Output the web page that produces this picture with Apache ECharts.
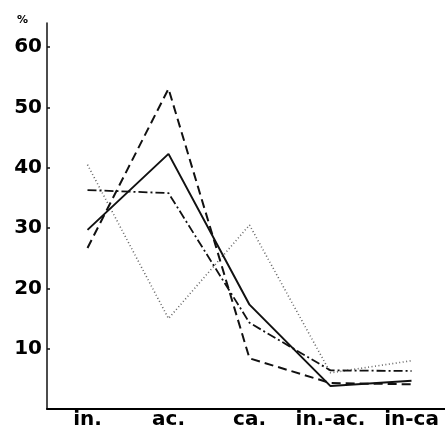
<!DOCTYPE html>
<html>
<head>
<meta charset="utf-8">
<script src="https://cdn.jsdelivr.net/npm/echarts@6/dist/echarts.min.js"></script>
<style>html,body{margin:0;padding:0;background:#fff}#c{width:445px;height:433px}</style>
</head>
<body>
<div id="c"></div>
<script>
const categories = ['in.', 'ac.', 'ca.', 'in.-ac.', 'in-ca'];
const solidSeries = [29.7, 42.3, 17.3, 3.8, 4.7];
const dashedSeries = [26.7, 53.1, 8.4, 4.3, 4.1];
const dashDotSeries = [36.3, 35.8, 14.3, 6.4, 6.3];
const dottedSeries = [40.5, 15.0, 30.5, 6.0, 8.0];
const yTicks = [10, 20, 30, 40, 50, 60];

const chart = echarts.init(document.getElementById('c'), null, {renderer: 'canvas'});
const font = 'DejaVu Sans';
function line(data, color, width, type) {
  return {
    type: 'line', data: data, symbol: 'none', silent: true,
    lineStyle: {color: color, width: width, type: type}
  };
}
chart.setOption({
  animation: false,
  grid: {left: 47, width: 405, top: 23, bottom: 24, containLabel: false, outerBoundsMode: 'none'},
  xAxis: {
    type: 'category', data: categories, boundaryGap: true,
    axisLine: {lineStyle: {color: '#000', width: 2}},
    axisTick: {show: false},
    axisLabel: {color: '#000', fontFamily: font, fontWeight: 'bold', fontSize: 20, margin: 1, interval: 0}
  },
  yAxis: {
    type: 'value', min: 0, max: 64, interval: 10,
    splitLine: {show: false},
    axisLine: {show: true, lineStyle: {color: '#111', width: 1.5}},
    axisTick: {show: true, inside: true, length: 3, customValues: yTicks, lineStyle: {color: '#111', width: 1.5}},
    axisLabel: {color: '#000', fontFamily: font, fontWeight: 'bold', fontSize: 20, margin: 5, customValues: yTicks}
  },
  graphic: [{type: 'text', left: 17, top: 15, style: {text: '%', font: 'bold 11px "DejaVu Sans"', fill: '#000'}}],
  series: [
    line(dottedSeries, '#666', 1.6, [1, 2.5]),
    line(dashDotSeries, '#111', 1.8, [9, 3, 2, 3]),
    line(dashedSeries, '#111', 2, [9, 5]),
    line(solidSeries, '#111', 2, 'solid')
  ]
});
</script>
</body>
</html>
